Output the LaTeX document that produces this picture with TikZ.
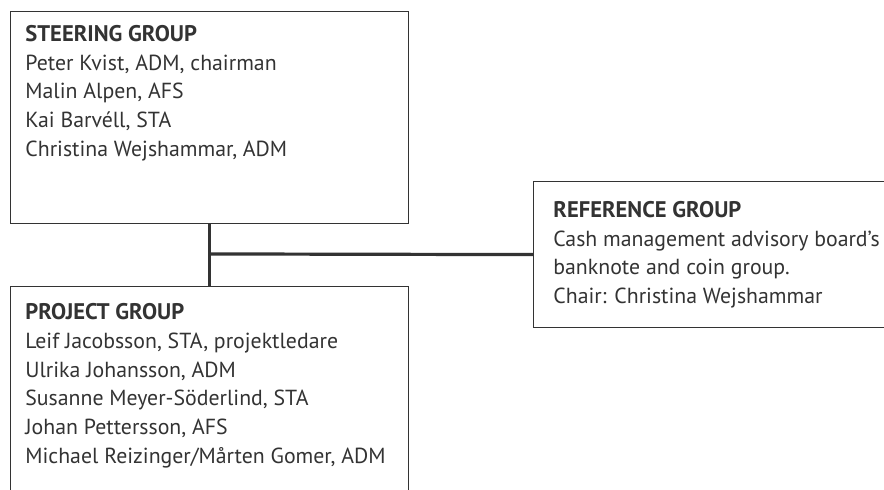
\documentclass[tikz,border=0pt]{standalone}
\usepackage{fontspec}
\setmainfont{PT Sans}
\usetikzlibrary{positioning,calc}
\definecolor{ink}{HTML}{333333}
\newcommand{\grouptitle}[1]{{\fontsize{11.3}{14.35}\selectfont\bfseries #1}}

\begin{document}
\begin{tikzpicture}[
    x=0.5pt, y=-0.5pt,
    node distance=31pt,
    group/.style={draw=ink, line width=0.6pt, minimum width=199pt, inner sep=0pt},
    members/.style={anchor=north west, align=left, inner sep=0pt, text=ink, font=\fontsize{10.9}{14.35}\selectfont},
    link/.style={draw=ink, line width=1.6pt}
]
\useasboundingbox (0,0) rectangle (884,490);
\clip (0,0) rectangle (884,490);

% group boxes
\node[group, minimum height=106pt, anchor=north west] (steer) at (10,11) {};
\node[group, minimum height=122pt, below=of steer] (project) {};
\node[group, minimum width=190pt, minimum height=73pt, anchor=north west] (ref) at (533,181) {};

% members
\node[members] (steertext) at ($(steer.north west)+(15,14)$) {\grouptitle{STEERING GROUP}\\
    Peter Kvist, ADM, chairman\\
    Malin Alpen, AFS\\
    Kai Barvéll, STA\\
    Christina Wejshammar, ADM};
\node[members] (projecttext) at ($(project.north west)+(15,17)$) {\grouptitle{PROJECT GROUP}\\
    Leif Jacobsson, STA, projektledare\\
    Ulrika Johansson, ADM\\
    Susanne Meyer-Söderlind, STA\\
    Johan Pettersson, AFS\\
    Michael Reizinger/Mårten Gomer, ADM};
\node[members] (reftext) at ($(ref.north west)+(20,20)$) {\grouptitle{REFERENCE GROUP}\\
    Cash management advisory board's\\
    banknote and coin group.\\
    Chair: Christina Wejshammar};

% connectors
\coordinate (junc) at ($(steer.south)!0.48!(project.north)$);
\draw[link] (steer.south) -- (project.north);
\draw[link] (junc) -- (ref.west);
\end{tikzpicture}
\end{document}
